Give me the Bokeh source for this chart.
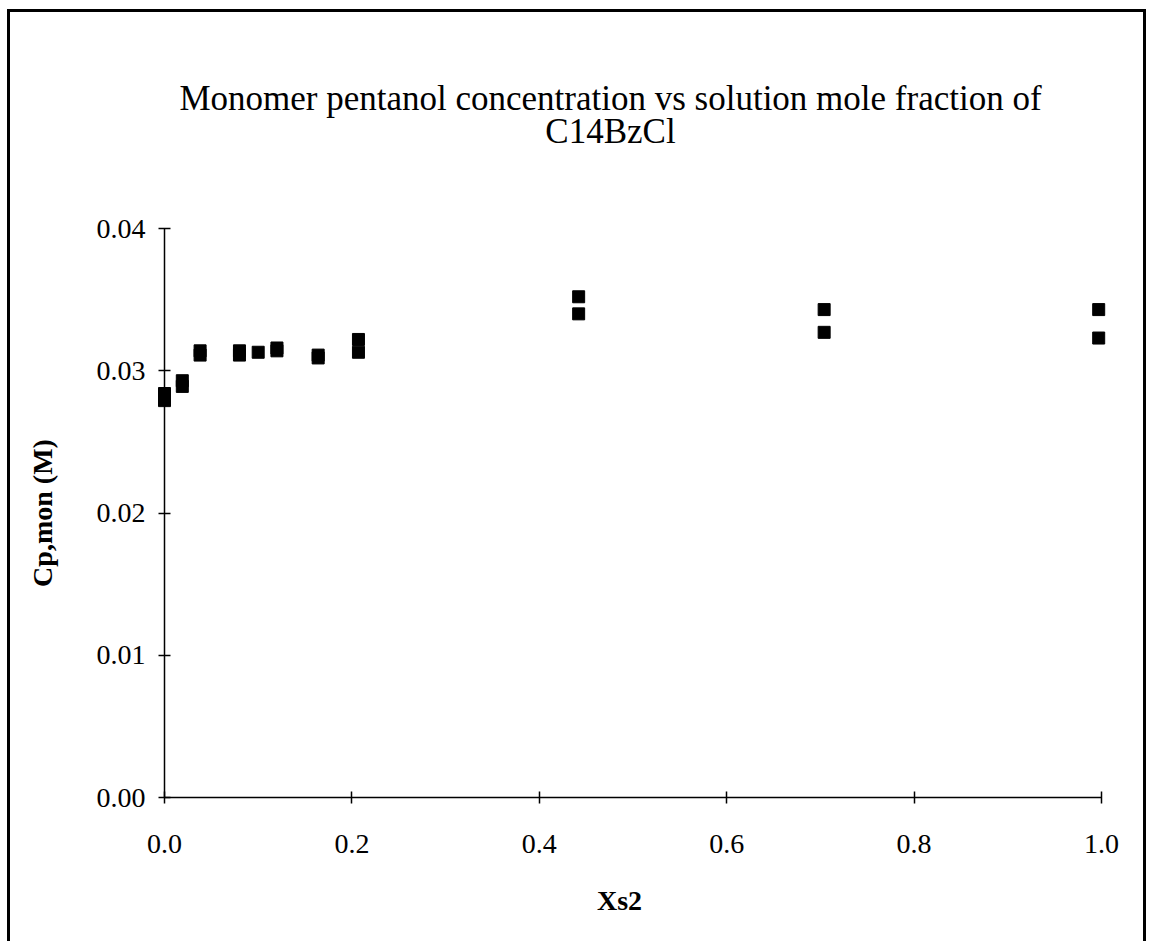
from bokeh.plotting import figure
from bokeh.models import FixedTicker, NumeralTickFormatter, Label, Range1d
from bokeh.embed import file_html
from bokeh.resources import INLINE

# data
xs2 = [0.0, 0.0, 0.019, 0.019, 0.038, 0.038, 0.08, 0.08, 0.10, 0.12, 0.12,
       0.164, 0.164, 0.207, 0.207, 0.442, 0.442, 0.704, 0.704, 0.997, 0.997]
cp_mon = [0.0284, 0.0279, 0.0293, 0.0289, 0.0314, 0.0311, 0.0314, 0.0311, 0.0313,
          0.0316, 0.0314, 0.0311, 0.0309, 0.0322, 0.0313, 0.0352, 0.0340,
          0.0343, 0.0327, 0.0343, 0.0323]
x_ticks = [0.0, 0.2, 0.4, 0.6, 0.8, 1.0]
y_ticks = [0.0, 0.01, 0.02, 0.03, 0.04]
title_line1 = "Monomer pentanol concentration vs solution mole fraction of"
title_line2 = "C14BzCl"
x_label = "Xs2"
y_label = "Cp,mon (M)"

SERIF = "Liberation Serif"

# canvas layout (pixels inside the bordered box)
W, H = 1139, 932
X0_PX, X1_PX = 154, 1091      # canvas x of data x=0 and x=1
Y0_PX, Y4_PX = 785, 216       # canvas y of data y=0 and y=0.04
sx = (X1_PX - X0_PX) / 1.0
sy = (Y0_PX - Y4_PX) / 0.04
x_start, x_end = -X0_PX / sx, 1.0 + (W - X1_PX) / sx
y_start, y_end = -(H - Y0_PX) / sy, 0.04 + Y4_PX / sy


def ycan(py):
    return y_end - py / sy


def xcan(px):
    return x_start + px / sx


p = figure(width=W, height=H, output_backend="svg", toolbar_location=None,
           x_range=Range1d(x_start, x_end), y_range=Range1d(y_start, y_end),
           min_border=0)
p.styles = {"border-left": "3px solid black", "border-top": "3px solid black",
            "border-right": "3px solid black",
            "margin-left": "7px", "margin-top": "9px"}
p.outline_line_color = None
p.grid.visible = False
p.background_fill_color = "white"
p.border_fill_color = "white"

p.scatter(xs2, cp_mon, marker="square", size=12, fill_color="black", line_color="black")

# x axis
xa = p.xaxis[0]
xa.ticker = FixedTicker(ticks=x_ticks)
xa.formatter = NumeralTickFormatter(format="0.0")
xa.bounds = (0, 1)
xa.fixed_location = 0
# y axis
ya = p.yaxis[0]
ya.ticker = FixedTicker(ticks=y_ticks)
ya.formatter = NumeralTickFormatter(format="0.00")
ya.bounds = (0, 0.04)
ya.fixed_location = 0
ya.axis_label = y_label

for ax in (xa, ya):
    ax.axis_line_color = "black"
    ax.axis_line_width = 1.5
    ax.major_tick_line_color = "black"
    ax.major_tick_line_width = 1.5
    ax.major_tick_in = 6
    ax.major_tick_out = 6
    ax.minor_tick_line_color = None
    ax.major_label_text_font = SERIF
    ax.major_label_text_font_size = "28px"
    ax.major_label_text_color = "black"
    ax.axis_label_text_font = SERIF
    ax.axis_label_text_font_size = "28px"
    ax.axis_label_text_font_style = "bold"
    ax.axis_label_text_color = "black"

xa.major_label_standoff = 31
ya.major_label_standoff = 13
ya.axis_label_standoff = 36

# x-axis title, placed as in the original (slightly left of the axis centre)
p.add_layout(Label(x=xcan(609), y=ycan(888), text=x_label, text_align="center",
                   text_baseline="alphabetic", text_font=SERIF,
                   text_font_size="28px", text_font_style="bold", text_color="black"))

for txt, py in ((title_line1, 86), (title_line2, 119)):
    p.add_layout(Label(x=xcan(600), y=ycan(py), text=txt, text_align="center",
                       text_baseline="alphabetic", text_font=SERIF,
                       text_font_size="35px", text_color="black"))

open("out.html", "w").write(file_html(p, INLINE))
